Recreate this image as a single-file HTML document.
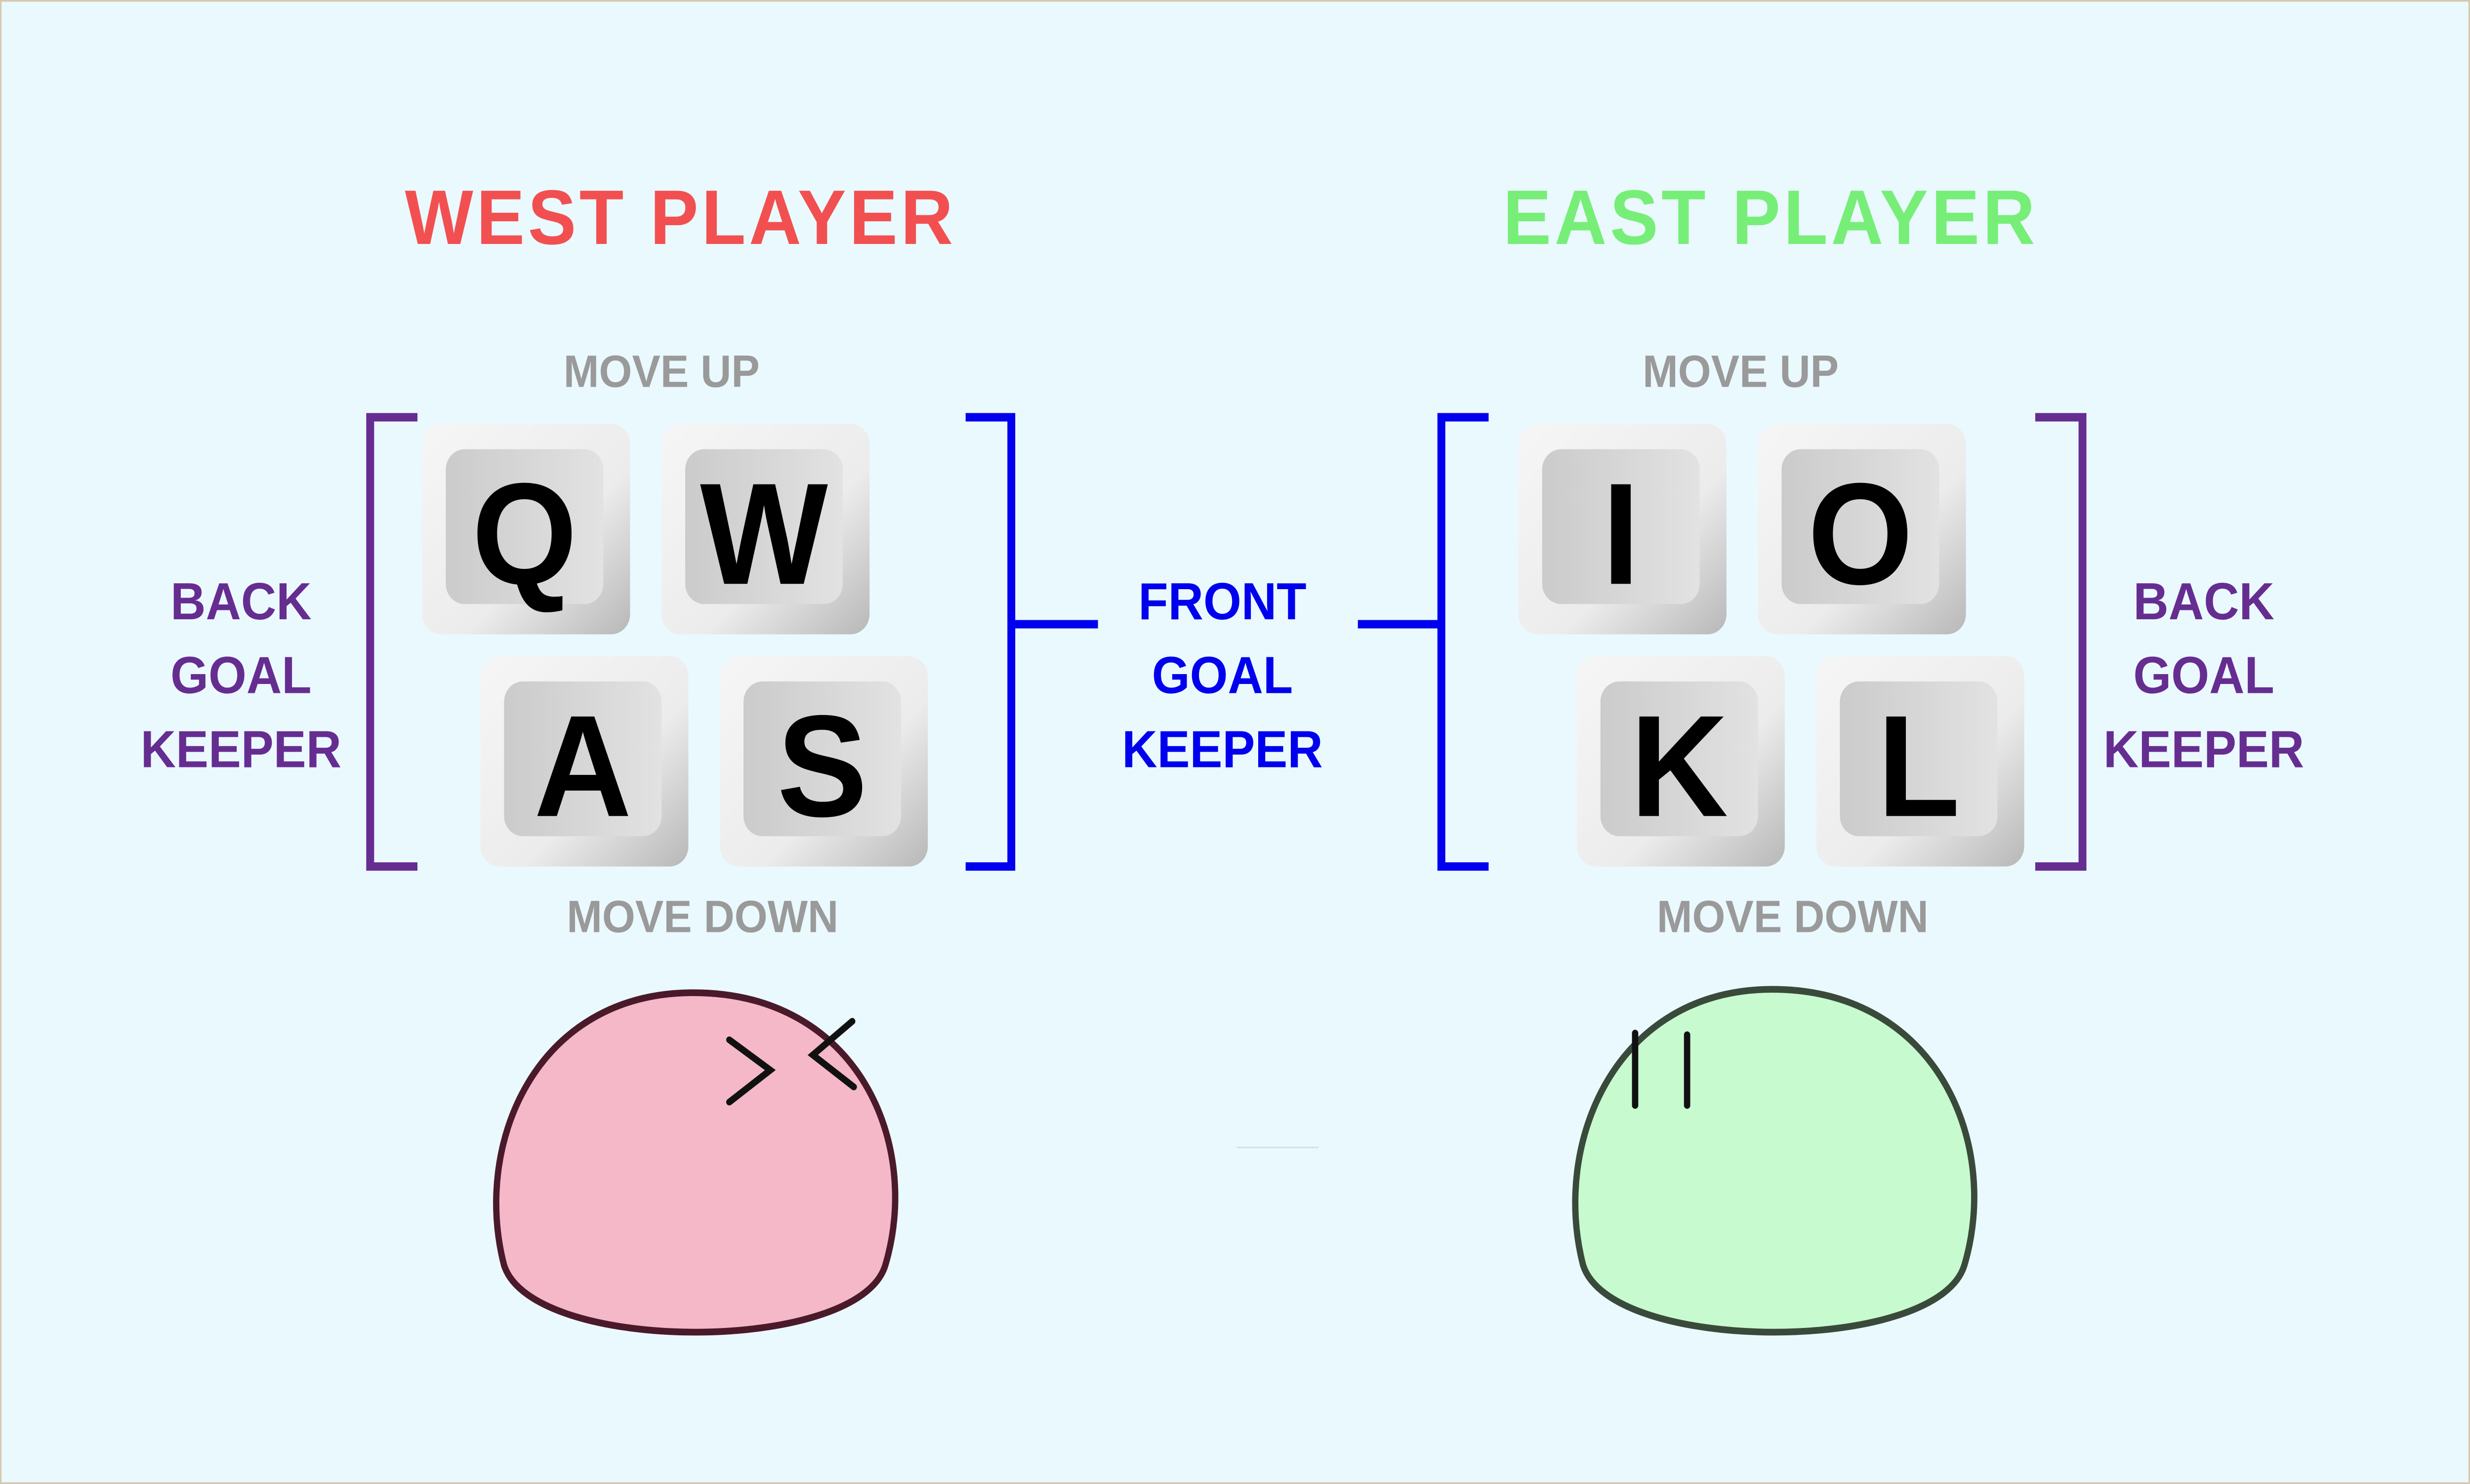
<!DOCTYPE html>
<html><head><meta charset="utf-8"><style>
html,body{margin:0;padding:0;background:#eaf9fe;overflow:hidden;width:100vw;height:100vh;}
svg{display:block;position:absolute;left:0;top:0;width:100vw;height:100vh}
text{font-family:"Liberation Sans",sans-serif;font-weight:bold;text-anchor:middle}
</style></head><body>
<svg viewBox="0 0 1568 882" preserveAspectRatio="none" xmlns="http://www.w3.org/2000/svg">
<defs>
<linearGradient id="kg" x1="0" y1="0" x2="1" y2="1"><stop offset="0" stop-color="#f6f6f6"/><stop offset="0.6" stop-color="#ececec"/><stop offset="1" stop-color="#b8b8b8"/></linearGradient>
<linearGradient id="ig" x1="0" y1="0" x2="1" y2="0"><stop offset="0" stop-color="#cbcbcb"/><stop offset="1" stop-color="#e2e2e2"/></linearGradient>
</defs>
<rect x="0.5" y="0.5" width="1567" height="881" fill="#eaf9fe" stroke="#d8c8b0" stroke-width="1"/>
<text x="432" y="145" font-size="46" fill="#f25050" letter-spacing="2">WEST PLAYER</text>
<text x="1124" y="145" font-size="46" fill="#77ee77" letter-spacing="2">EAST PLAYER</text>
<g font-size="27" fill="#9a9a9a">
<text x="420" y="230">MOVE UP</text>
<text x="446" y="554">MOVE DOWN</text>
<text x="1105" y="230">MOVE UP</text>
<text x="1138" y="554">MOVE DOWN</text>
</g>
<g font-size="31" fill="#662d91">
<g><text x="153" y="368">BACK</text><text x="153" y="412">GOAL</text><text x="153" y="456">KEEPER</text></g>
<g><text x="1399" y="368">BACK</text><text x="1399" y="412">GOAL</text><text x="1399" y="456">KEEPER</text></g>
</g>
<g font-size="31" fill="#0000ee"><text x="776" y="368">FRONT</text><text x="776" y="412">GOAL</text><text x="776" y="456">KEEPER</text></g>
<g fill="none" stroke-width="5">
<path d="M265,248 H235 V515 H265" stroke="#662d91"/>
<path d="M613,248 H642 V515 H613 M642,371 H697" stroke="#0000ee"/>
<path d="M945,248 H915 V515 H945 M915,371 H862" stroke="#0000ee"/>
<path d="M1292,248 H1322 V515 H1292" stroke="#662d91"/>
</g>
<g id="keys" font-size="86" fill="#000">
</g>
<g>
<path d="M320,752 C300,680 340,590 440,590 C545,590 585,680 562,752 C545,805 338,805 320,752 Z" fill="#f4b8c8" stroke="#4a1a2a" stroke-width="4"/>
<path d="M463,618 L489,636 L463,655" fill="none" stroke="#111" stroke-width="4" stroke-linecap="round"/>
<path d="M541,607 L516,627 L542,646" fill="none" stroke="#111" stroke-width="4" stroke-linecap="round"/>
</g>
<g>
<path d="M1005,752 C985,680 1025,588 1125,588 C1230,588 1270,680 1247,752 C1230,805 1023,805 1005,752 Z" fill="#c8fad0" stroke="#3a4a3a" stroke-width="4"/>
<path d="M1038,614 V657 M1071,615 V657" stroke="#111" stroke-width="4" stroke-linecap="round"/>
</g>
<line x1="785" y1="682" x2="837" y2="682" stroke="#d0e4ea" stroke-width="1"/>
</svg>
<script>
var keyLetters=['Q','W','A','S','I','O','K','L'];
var keyX=[268,420,305,457,964,1116,1001,1153];
var keyY=[252,252,390,390,252,252,390,390];
var g=document.getElementById('keys');
var NS='http://www.w3.org/2000/svg';
keyLetters.forEach(function(l,i){
  var k=document.createElementNS(NS,'g');
  
  
  var o=document.createElementNS(NS,'rect');
  o.setAttribute('x',keyX[i]);o.setAttribute('y',keyY[i]);o.setAttribute('width',132);o.setAttribute('height',125);o.setAttribute('rx',12);o.setAttribute('fill','url(#kg)');
  var n=document.createElementNS(NS,'rect');
  n.setAttribute('x',keyX[i]+15);n.setAttribute('y',keyY[i]+15);n.setAttribute('width',100);n.setAttribute('height',92);n.setAttribute('rx',12);n.setAttribute('fill','url(#ig)');
  var t=document.createElementNS(NS,'text');
  t.setAttribute('x',keyX[i]+65);t.setAttribute('y',keyY[i]+95);t.textContent=l;
  k.appendChild(o);k.appendChild(n);k.appendChild(t);g.appendChild(k);
});
</script>
</body></html>
